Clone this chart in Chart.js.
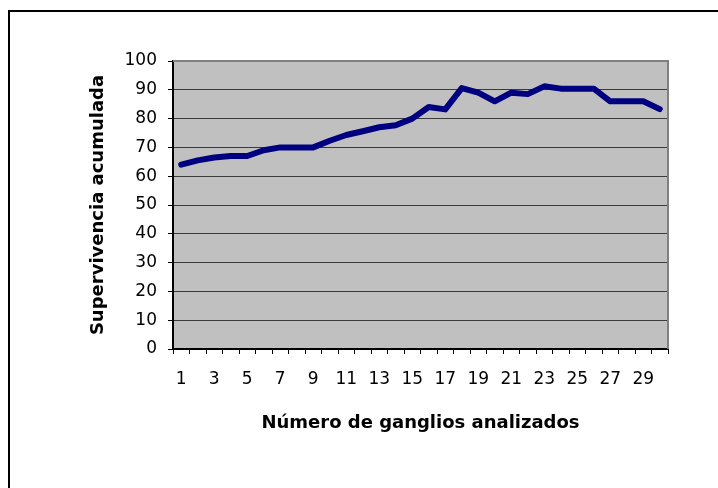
<!DOCTYPE html>
<html>
<head>
<meta charset="utf-8">
<script src="https://cdn.jsdelivr.net/npm/chart.js@4/dist/chart.umd.min.js"></script>
<style>
  html, body { margin: 0; padding: 0; background: #fff; overflow: hidden; }
  #wrap { position: relative; width: 718px; height: 488px; }
  #frame { position: absolute; left: 8px; top: 10px; width: 760px; height: 540px; border: 2px solid #000; box-sizing: border-box; }
  canvas { position: absolute; left: 0; top: 0; }
</style>
</head>
<body>
<div id="wrap">
  <div id="frame"></div>
  <canvas id="c" width="718" height="488"></canvas>
</div>
<script>
// Número de ganglios analizados (1..30)
const ganglios = ['1','2','3','4','5','6','7','8','9','10','11','12','13','14','15',
                  '16','17','18','19','20','21','22','23','24','25','26','27','28','29','30'];

// Supervivencia acumulada (%)
const supervivencia = [64, 65.5, 66.5, 67, 67, 69, 70, 70, 70, 72.3,
                       74.3, 75.6, 77, 77.7, 80, 84, 83.2, 90.6, 89, 86,
                       89, 88.5, 91.2, 90.4, 90.4, 90.4, 86, 86, 86, 83.3];

const yMin = 0, yMax = 100, yStep = 10;

const tickFont = { family: 'DejaVu Sans', size: 17 };
const titleFont = { family: 'DejaVu Sans', size: 18, weight: 'bold' };

// grey plot area with a thin grey frame on top and right
const plotArea = {
  id: 'plotArea',
  beforeDraw(chart) {
    const { ctx, chartArea: a } = chart;
    ctx.save();
    ctx.fillStyle = '#C0C0C0';
    ctx.fillRect(a.left, a.top, a.right - a.left, a.bottom - a.top);
    ctx.restore();
  },
  beforeDatasetsDraw(chart) {
    const { ctx, chartArea: a } = chart;
    ctx.save();
    ctx.strokeStyle = '#808080';
    ctx.lineWidth = 2;
    ctx.beginPath();
    ctx.moveTo(a.left, a.top);
    ctx.lineTo(a.right, a.top);
    ctx.lineTo(a.right, a.bottom);
    ctx.stroke();
    ctx.restore();
  }
};

new Chart(document.getElementById('c'), {
  type: 'line',
  data: {
    labels: ganglios,
    datasets: [{
      data: supervivencia,
      borderColor: '#000080',
      borderWidth: 6,
      pointRadius: 0,
      tension: 0,
      borderCapStyle: 'round',
      borderJoinStyle: 'round',
      fill: false
    }]
  },
  options: {
    responsive: false,
    animation: false,
    devicePixelRatio: 1,
    layout: { padding: { left: 80, top: 61, right: 50, bottom: 54 } },
    plugins: { legend: { display: false }, tooltip: { enabled: false } },
    scales: {
      x: {
        type: 'category',
        offset: true,
        afterFit(s) { s.height = 85; },
        grid: {
          offset: true,
          drawOnChartArea: false,
          drawTicks: true,
          tickLength: 5,
          tickColor: '#000',
          lineWidth: 1
        },
        border: { color: '#000', width: 2 },
        ticks: {
          autoSkip: false,
          maxRotation: 0,
          padding: 15,
          color: '#000',
          font: tickFont,
          callback: (v, i) => (i % 2 === 0 ? ganglios[i] : '')
        },
        title: {
          display: true,
          text: 'Número de ganglios analizados',
          color: '#000',
          font: titleFont,
          padding: { top: 0, bottom: 0 }
        }
      },
      y: {
        min: yMin,
        max: yMax,
        afterFit(s) { s.width = 93; },
        grid: {
          color: '#3a3a3a',
          lineWidth: 1,
          tickLength: 5,
          tickColor: '#000'
        },
        border: { color: '#000', width: 2 },
        ticks: {
          stepSize: yStep,
          padding: 11,
          color: '#000',
          font: tickFont
        },
        title: {
          display: true,
          text: 'Supervivencia acumulada',
          color: '#000',
          font: titleFont,
          padding: { top: 8, bottom: 0 }
        }
      }
    }
  },
  plugins: [plotArea]
});
</script>
</body>
</html>
